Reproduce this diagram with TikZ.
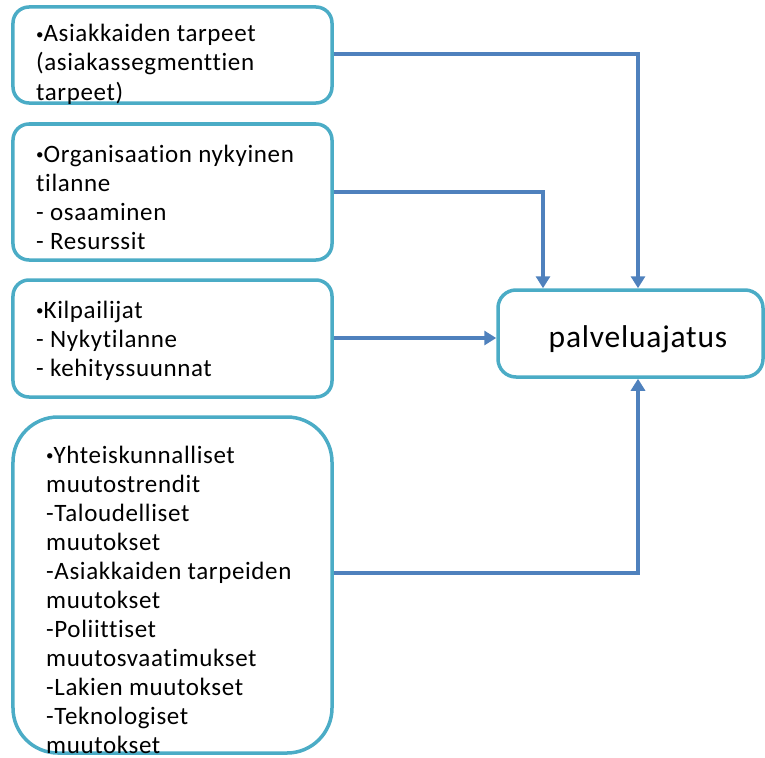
\documentclass[tikz,border=0pt]{standalone}
\usepackage{fontspec}
\setmainfont{Carlito}[Ligatures={NoCommon}, LetterSpace=2.5]
\usetikzlibrary{arrows.meta}
\definecolor{boxline}{RGB}{75,172,198}
\definecolor{linkline}{RGB}{79,129,189}
\tikzset{
  factor/.style={draw=boxline, line width=3.5bp, rounded corners=16bp,
    minimum width=319bp, inner sep=0pt},
  factortext/.style={anchor=base west, inner sep=0pt},
  link/.style={draw=linkline, line width=3.2bp,
    -{Triangle[length=12bp,width=14bp]}},
}
\newcommand{\factorlines}[1]{\parbox[t]{320bp}{\fontsize{25bp}{29bp}\selectfont\raggedright #1}}
\newcommand{\itembullet}{{\fontsize{15bp}{15bp}\selectfont\raisebox{2.5bp}{•}}}
\begin{document}
\begin{tikzpicture}[x=1bp,y=-1bp]
  \useasboundingbox (0,0) rectangle (765,758);

  % input boxes on the left
  \node[factor, minimum height=96bp]  (b1) at (172.5,55) {};
  \node[factor, minimum height=136bp] (b2) at (172.5,192) {};
  \node[factor, minimum height=117bp] (b3) at (172.5,338.5) {};
  \node[factor, minimum height=336bp, rounded corners=45bp] (b4) at (172.5,585) {};

  % target box
  \node[factor, minimum width=265bp, minimum height=87bp, rounded corners=18bp] (p) at (630.5,333.5) {};
  \node (pt) at (638,339) {\fontsize{31.5bp}{36bp}\selectfont palveluajatus};

  % box texts
  \node[factortext] (t1) at (36,42) {\factorlines{\itembullet Asiakkaiden tarpeet\\(asiakassegmenttien\\tarpeet)}};
  \node[factortext] (t2) at (36,162) {\factorlines{\itembullet Organisaation nykyinen\\tilanne\\- osaaminen\\- Resurssit}};
  \node[factortext] (t3) at (36,318) {\factorlines{\itembullet Kilpailijat\\- Nykytilanne\\- kehityssuunnat}};
  \node[factortext] (t4) at (46,463) {\factorlines{\itembullet Yhteiskunnalliset\\muutostrendit\\-Taloudelliset\\muutokset\\-Asiakkaiden tarpeiden\\muutokset\\-Poliittiset\\muutosvaatimukset\\-Lakien muutokset\\-Teknologiset\\muutokset}};

  % connectors
  \draw[link] ([yshift=1bp]b1.east) -| ([xshift=7.5bp]p.north);
  \draw[link] (b2.east) -| ([xshift=-87.5bp]p.north);
  \draw[link] ([yshift=0.5bp]b3.east) -- ([yshift=0.5bp]b3.east -| p.west);
  \draw[link] ([yshift=12bp]b4.east) -| ([xshift=7.5bp]p.south);
\end{tikzpicture}
\end{document}
